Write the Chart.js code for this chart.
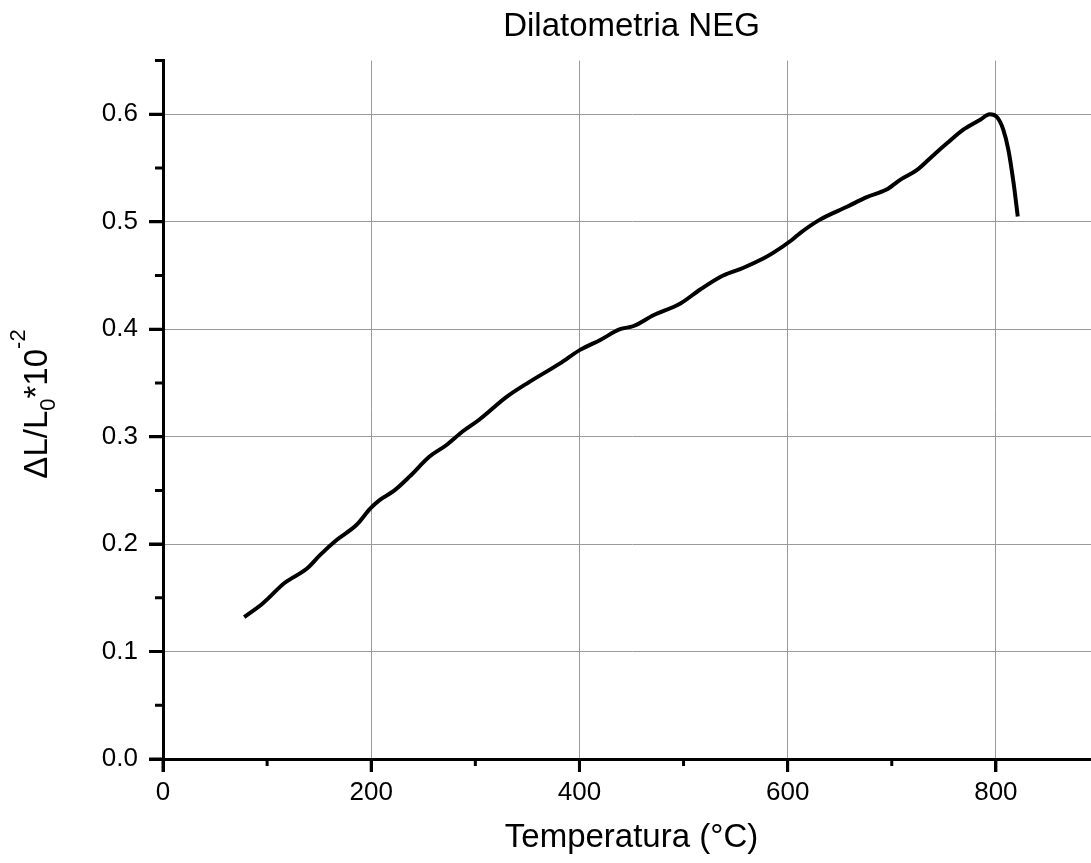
<!DOCTYPE html>
<html>
<head>
<meta charset="utf-8">
<script src="https://cdn.jsdelivr.net/npm/chart.js@4/dist/chart.umd.min.js"></script>
<style>
  html, body { margin: 0; padding: 0; background: #fff; overflow: hidden; }
  #wrap { width: 1091px; height: 863px; overflow: hidden; position: relative; }
  canvas { display: block; }
</style>
</head>
<body>
<div id="wrap"><canvas id="c" width="1100" height="863"></canvas></div>
<script>
// ---- data ----
const temperatures = [78, 96, 117, 138, 151, 167, 186, 199, 208, 221,
  237, 256, 272, 288, 304, 330, 352, 381, 401, 420,
  439, 452, 471, 497, 516, 538, 557, 577, 586, 604,
  612, 631, 657, 676, 695, 708, 724, 740, 753, 769,
  785, 794, 801, 807, 812, 817, 821];
const dilatation = [0.132, 0.145, 0.164, 0.177, 0.190, 0.204, 0.218, 0.233, 0.241, 0.249,
  0.263, 0.2815, 0.292, 0.305, 0.316, 0.337, 0.351, 0.368, 0.381, 0.390,
  0.400, 0.403, 0.413, 0.424, 0.437, 0.450, 0.457, 0.466, 0.471, 0.483,
  0.4895, 0.502, 0.514, 0.523, 0.530, 0.539, 0.548, 0.562, 0.573, 0.586,
  0.595, 0.600, 0.5975, 0.586, 0.567, 0.536, 0.505];
const xMinorTicks = [100, 300, 500, 700, 900];
const yMinorTicks = [0.05, 0.15, 0.25, 0.35, 0.45, 0.55, 0.65];
const chartTitle = 'Dilatometria NEG';
const xTitle = 'Temperatura (°C)';
const yTitleParts = [
  { t: '\u0394L/L', kind: 'main' },
  { t: '0', kind: 'sub' },
  { t: '*10', kind: 'main' },
  { t: '-2', kind: 'sup' }
];

const FONT = "'Liberation Sans', Arial, Helvetica, sans-serif";

const points = temperatures.map((t, i) => ({ x: t, y: dilatation[i] }));

const ticksPlugin = {
  id: 'axisTicks',
  afterDraw(chart) {
    const ctx = chart.ctx;
    const xs = chart.scales.x, ys = chart.scales.y;
    const ca = chart.chartArea;
    ctx.save();
    ctx.strokeStyle = '#000';
    ctx.lineWidth = 3;
    ctx.beginPath();
    yMinorTicks.forEach(v => {
      const p = ys.getPixelForValue(v);
      ctx.moveTo(ca.left - 8, p);
      ctx.lineTo(ca.left, p);
    });
    xMinorTicks.forEach(v => {
      const p = xs.getPixelForValue(v);
      ctx.moveTo(p, ca.bottom);
      ctx.lineTo(p, ca.bottom + 7);
    });
    ys.ticks.forEach(t => {
      const p = ys.getPixelForValue(t.value);
      ctx.moveTo(ca.left - 14, p);
      ctx.lineTo(ca.left, p);
    });
    xs.ticks.forEach(t => {
      const p = xs.getPixelForValue(t.value);
      ctx.moveTo(p, ca.bottom);
      ctx.lineTo(p, ca.bottom + 13);
    });
    ctx.stroke();
    ctx.restore();
  }
};

const yTitlePlugin = {
  id: 'yTitle',
  afterDraw(chart) {
    const ctx = chart.ctx;
    const mainSize = 33, smallSize = 22;
    ctx.save();
    ctx.fillStyle = '#000';
    ctx.textBaseline = 'alphabetic';
    ctx.textAlign = 'left';
    let total = 0;
    yTitleParts.forEach(p => {
      ctx.font = (p.kind === 'main' ? mainSize : smallSize) + 'px ' + FONT;
      p.w = ctx.measureText(p.t).width;
      total += p.w;
    });
    const centerY = 404;
    const baselineX = 47;
    ctx.translate(baselineX, centerY + total / 2);
    ctx.rotate(-Math.PI / 2);
    let x = 0;
    yTitleParts.forEach(p => {
      ctx.font = (p.kind === 'main' ? mainSize : smallSize) + 'px ' + FONT;
      let dy = 0;
      if (p.kind === 'sub') dy = 8;
      if (p.kind === 'sup') dy = -22;
      ctx.fillText(p.t, x, dy);
      x += p.w;
    });
    ctx.restore();
  }
};

new Chart(document.getElementById('c'), {
  type: 'line',
  data: {
    datasets: [{
      data: points,
      borderColor: '#000',
      borderWidth: 4,
      pointRadius: 0,
      fill: false,
      cubicInterpolationMode: 'monotone'
    }]
  },
  options: {
    responsive: false,
    devicePixelRatio: 1,
    animation: false,
    layout: { padding: 0 },
    plugins: {
      legend: { display: false },
      tooltip: { enabled: false },
      title: {
        display: true,
        text: chartTitle,
        color: '#000',
        fullSize: false,
        font: { family: FONT, size: 33, weight: 'normal' },
        padding: { top: 7, bottom: 14 }
      }
    },
    scales: {
      x: {
        type: 'linear',
        min: 0,
        max: 900,
        afterFit(scale) { scale.height = 104; },
        grid: {
          color: '#9a9a9a',
          lineWidth: 1,
          tickColor: '#000',
          tickWidth: 3,
          tickLength: 13
        },
        border: { display: true, color: '#000', width: 3 },
        ticks: {
          stepSize: 200,
          includeBounds: false,
          color: '#000',
          padding: 5,
          maxRotation: 0,
          font: { family: FONT, size: 26 }
        },
        title: {
          display: true,
          text: xTitle,
          color: '#000',
          font: { family: FONT, size: 33 },
          padding: { top: 0, bottom: 5 }
        }
      },
      y: {
        type: 'linear',
        min: 0,
        max: 0.65,
        afterFit(scale) { scale.width = 163; },
        grid: {
          color: '#9a9a9a',
          lineWidth: 1,
          tickColor: '#000',
          tickWidth: 3,
          tickLength: 14
        },
        border: { display: true, color: '#000', width: 3 },
        ticks: {
          stepSize: 0.1,
          includeBounds: false,
          color: '#000',
          padding: 11,
          font: { family: FONT, size: 26 },
          callback: (v) => Number(v).toFixed(1)
        }
      }
    }
  },
  plugins: [ticksPlugin, yTitlePlugin]
});
</script>
</body>
</html>
